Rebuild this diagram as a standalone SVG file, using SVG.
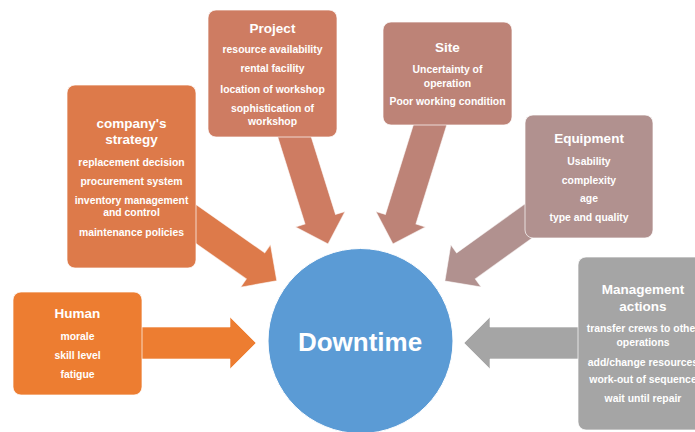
<svg xmlns="http://www.w3.org/2000/svg" width="695" height="432" viewBox="0 0 695 432">
<style>
text{font-family:"Liberation Sans",Arial,sans-serif;fill:#fff;font-weight:bold;text-anchor:middle}
.h{font-size:13.5px}
.i{font-size:10.4px}
.box{stroke:#fff;stroke-width:1;stroke-opacity:.7}
.arr{stroke:#fff;stroke-width:1;stroke-opacity:.6}
</style>
<rect width="695" height="432" fill="#fff"/>
<g id="connectors">
<path class="arr" fill="#ED7D31" transform="translate(140,343)" d="M0,-16 H90 V-26 L116,0 L90,26 V16 H0 Z"/>
<path class="arr" fill="#A5A5A5" transform="translate(580,343) rotate(180)" d="M0,-16 H90 V-26 L116,0 L90,26 V16 H0 Z"/>
<path class="arr" fill="#DD7A4A" transform="translate(186,217) rotate(35.1)" d="M0,-16 H85 V-26 L111,0 L85,26 V16 H0 Z"/>
<path class="arr" fill="#CE7C62" transform="translate(292.3,130) rotate(72.6)" d="M0,-16 H93.5 V-26 L119.5,0 L93.5,26 V16 H0 Z"/>
<path class="arr" fill="#BD8377" transform="translate(432.2,118) rotate(107.3)" d="M0,-16 H106 V-26 L132,0 L106,26 V16 H0 Z"/>
<path class="arr" fill="#B1918F" transform="translate(535,216.3) rotate(144.3)" d="M0,-16 H85 V-26 L111,0 L85,26 V16 H0 Z"/>
</g>
<g id="downtime">
<circle cx="360.5" cy="341" r="92.5" fill="#5B9BD5" stroke="#fff" stroke-width="1"/>
<text x="360" y="351" style="font-size:26px">Downtime</text>
</g>
<g id="human">
<rect class="box" x="13" y="292" width="129" height="103" rx="8" fill="#ED7D31"/>
<text class="h" x="77.5" y="318">Human</text>
<text class="i" x="77.5" y="340">morale</text>
<text class="i" x="77.5" y="359">skill level</text>
<text class="i" x="77.5" y="378">fatigue</text>
</g>
<g id="strategy">
<rect class="box" x="67" y="85" width="129" height="183" rx="8" fill="#DD7A4A"/>
<text class="h" x="131.5" y="128">company's</text>
<text class="h" x="131.5" y="144">strategy</text>
<text class="i" x="131.5" y="166">replacement decision</text>
<text class="i" x="131.5" y="185">procurement system</text>
<text class="i" x="131.5" y="204">inventory management</text>
<text class="i" x="131.5" y="216">and control</text>
<text class="i" x="131.5" y="236">maintenance policies</text>
</g>
<g id="project">
<rect class="box" x="208" y="10" width="129" height="127" rx="8" fill="#CE7C62"/>
<text class="h" x="272.5" y="33">Project</text>
<text class="i" x="272.5" y="53">resource availability</text>
<text class="i" x="272.5" y="72">rental facility</text>
<text class="i" x="272.5" y="93">location of workshop</text>
<text class="i" x="272.5" y="112">sophistication of</text>
<text class="i" x="272.5" y="125">workshop</text>
</g>
<g id="site">
<rect class="box" x="383" y="22" width="129" height="103" rx="8" fill="#BD8377"/>
<text class="h" x="447.5" y="52">Site</text>
<text class="i" x="447.5" y="73">Uncertainty of</text>
<text class="i" x="447.5" y="87">operation</text>
<text class="i" x="447.5" y="105">Poor working condition</text>
</g>
<g id="equipment">
<rect class="box" x="525" y="115" width="128" height="123" rx="8" fill="#B1918F"/>
<text class="h" x="589" y="143">Equipment</text>
<text class="i" x="589" y="165">Usability</text>
<text class="i" x="589" y="184">complexity</text>
<text class="i" x="589" y="202">age</text>
<text class="i" x="589" y="221">type and quality</text>
</g>
<g id="management">
<rect class="box" x="578" y="257" width="130" height="173" rx="8" fill="#A5A5A5"/>
<text class="h" x="643" y="294">Management</text>
<text class="h" x="643" y="311">actions</text>
<text class="i" x="643" y="332">transfer crews to other</text>
<text class="i" x="643" y="346">operations</text>
<text class="i" x="643" y="366">add/change resources</text>
<text class="i" x="643" y="383">work-out of sequence</text>
<text class="i" x="643" y="402">wait until repair</text>
</g>
</svg>
